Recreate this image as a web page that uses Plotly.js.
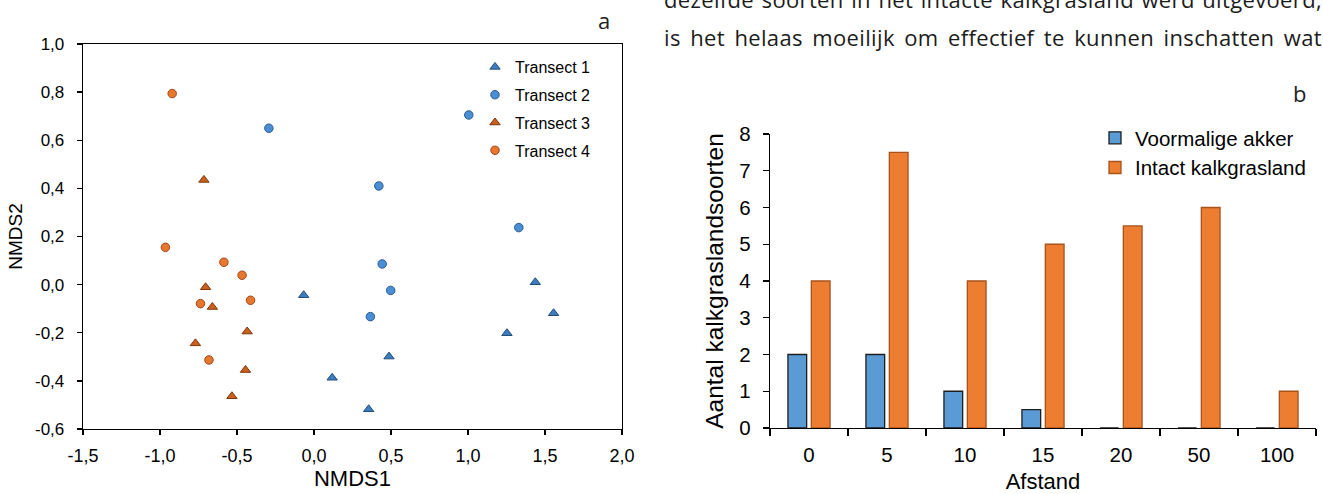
<!DOCTYPE html>
<html>
<head>
<meta charset="utf-8">
<script src="https://cdn.plot.ly/plotly-3.0.1.min.js"></script>
<style>
html,body{margin:0;padding:0;background:#fff;}
#wrap{position:relative;width:1323px;height:494px;overflow:hidden;background:#fff;}
#chart{position:absolute;left:0;top:0;width:1323px;height:494px;}
.body-line{position:absolute;left:664px;width:658px;font-family:"Open Sans",sans-serif;font-size:22px;line-height:22px;letter-spacing:0.35px;color:#1c1c1c;text-align:justify;text-align-last:justify;white-space:nowrap;}
</style>
</head>
<body>
<div id="wrap">
  <div id="chart"></div>
  <div class="body-line" style="top:-12px;">dezelfde soorten in het intacte kalkgrasland werd uitgevoerd,</div>
  <div class="body-line" style="top:26px;">is het helaas moeilijk om effectief te kunnen inschatten wat</div>
</div>
<script>
// ---- Panel a: NMDS ordination ----
const transect1X = [-0.067, 1.437, 1.556, 1.253, 0.487, 0.118, 0.355];
const transect1Y = [-0.044, 0.010, -0.119, -0.202, -0.299, -0.387, -0.518];
const transect2X = [-0.293, 1.005, 0.421, 1.330, 0.443, 0.498, 0.366];
const transect2Y = [0.650, 0.705, 0.410, 0.237, 0.086, -0.024, -0.133];
const transect3X = [-0.715, -0.704, -0.660, -0.434, -0.770, -0.445, -0.533];
const transect3Y = [0.435, -0.011, -0.093, -0.195, -0.244, -0.355, -0.464];
const transect4X = [-0.921, -0.965, -0.585, -0.467, -0.737, -0.412, -0.682];
const transect4Y = [0.794, 0.155, 0.093, 0.039, -0.079, -0.065, -0.313];
const seriesNamesA = ['Transect 1', 'Transect 2', 'Transect 3', 'Transect 4'];

const nmds1TickVals = [-1.5, -1.0, -0.5, 0.0, 0.5, 1.0, 1.5, 2.0];
const nmds1TickText = ['-1,5', '-1,0', '-0,5', '0,0', '0,5', '1,0', '1,5', '2,0'];
const nmds2TickVals = [-0.6, -0.4, -0.2, 0.0, 0.2, 0.4, 0.6, 0.8, 1.0];
const nmds2TickText = ['-0,6', '-0,4', '-0,2', '0,0', '0,2', '0,4', '0,6', '0,8', '1,0'];

// ---- Panel b: species counts ----
const distanceCategories = ['0', '5', '10', '15', '20', '50', '100'];
const voormaligeAkker = [2, 2, 1, 0.5, 0, 0, 0];
const intactKalkgrasland = [4, 7.5, 4, 5, 5.5, 6, 1];
const seriesNamesB = ['Voormalige akker', 'Intact kalkgrasland'];
const countTickVals = [0, 1, 2, 3, 4, 5, 6, 7, 8];

const FONT = 'Liberation Sans, Arial, sans-serif';
const W = 1323, H = 494;
const px = v => v / W;
const py = v => 1 - v / H;

function scat(x, y, name, symbol, fill, line, size, group) {
  return {
    type: 'scatter', mode: 'markers', x: x, y: y, name: name,
    xaxis: 'x', yaxis: 'y', legend: 'legend', legendgroup: group,
    marker: {symbol: symbol, size: size, color: fill, line: {color: line, width: 1}},
    hoverinfo: 'x+y+name'
  };
}

const data = [
  scat(transect1X, transect1Y, seriesNamesA[0], 'triangle-up', '#3E7CC0', '#1F4E79', 9, 'g1'),
  scat(transect2X, transect2Y, seriesNamesA[1], 'circle', '#4A8FD6', '#2A5A8E', 8.5, 'g2'),
  scat(transect3X, transect3Y, seriesNamesA[2], 'triangle-up', '#C9611E', '#7F360C', 9, 'g3'),
  scat(transect4X, transect4Y, seriesNamesA[3], 'circle', '#E8772E', '#A1481A', 8.5, 'g4'),
  {
    type: 'bar', x: distanceCategories, y: voormaligeAkker, name: seriesNamesB[0],
    xaxis: 'x2', yaxis: 'y2', legend: 'legend2',
    marker: {color: '#5B9BD5', line: {color: '#1E1E1E', width: 1.3}}
  },
  {
    type: 'bar', x: distanceCategories, y: intactKalkgrasland, name: seriesNamesB[1],
    xaxis: 'x2', yaxis: 'y2', legend: 'legend2',
    marker: {color: '#ED7D31', line: {color: '#A8531C', width: 1.3}}
  }
];

const axisCommon = {
  showline: true, linecolor: '#000', linewidth: 1.3, showgrid: false, zeroline: false,
  ticks: 'outside', tickcolor: '#000', tickwidth: 1.3
};

const layout = {
  width: W, height: H,
  margin: {l: 0, r: 0, t: 0, b: 0},
  paper_bgcolor: '#fff', plot_bgcolor: 'rgba(0,0,0,0)',
  font: {family: FONT, color: '#000'},
  showlegend: true,
  barmode: 'group', bargap: 0.40, bargroupgap: 0.2,
  xaxis: Object.assign({}, axisCommon, {
    domain: [px(83), px(622)], anchor: 'y', range: [-1.5, 2.0],
    tickmode: 'array', tickvals: nmds1TickVals, ticktext: nmds1TickText,
    mirror: true, ticklen: 5, ticklabelstandoff: 5,
    tickfont: {size: 18, color: '#000', family: FONT},
    title: {text: 'NMDS1', font: {size: 22, color: '#000', family: FONT}, standoff: 4}
  }),
  yaxis: Object.assign({}, axisCommon, {
    domain: [py(429), py(44)], anchor: 'x', range: [-0.6, 1.0],
    tickmode: 'array', tickvals: nmds2TickVals, ticktext: nmds2TickText,
    mirror: true, ticklen: 5, ticklabelstandoff: 9,
    tickfont: {size: 17, color: '#000', family: FONT},
    title: {text: 'NMDS2', font: {size: 19, color: '#000', family: FONT}, standoff: 7}
  }),
  xaxis2: Object.assign({}, axisCommon, {
    domain: [px(770), px(1316)], anchor: 'y2', type: 'category',
    categoryorder: 'array', categoryarray: distanceCategories, range: [-0.5, 6.5],
    tickson: 'boundaries', ticklen: 7, ticklabelstandoff: 8,
    tickfont: {size: 20.5, color: '#000', family: FONT},
    title: {text: 'Afstand', font: {size: 22, color: '#000', family: FONT}, standoff: 8}
  }),
  yaxis2: Object.assign({}, axisCommon, {
    domain: [py(428), py(134)], anchor: 'x2', range: [0, 8],
    tickmode: 'array', tickvals: countTickVals,
    ticklen: 6, ticklabelstandoff: 8,
    tickfont: {size: 20.5, color: '#000', family: FONT},
    title: {text: 'Aantal kalkgraslandsoorten', font: {size: 24.5, color: '#000', family: FONT}, standoff: 8}
  }),
  legend: {
    x: px(475), y: py(50), xanchor: 'left', yanchor: 'top',
    bgcolor: 'rgba(0,0,0,0)', borderwidth: 0, tracegroupgap: 4,
    font: {size: 16, color: '#000', family: FONT}
  },
  legend2: {
    x: px(1095), y: py(118), xanchor: 'left', yanchor: 'top',
    bgcolor: 'rgba(0,0,0,0)', borderwidth: 0,
    font: {size: 20.5, color: '#000', family: FONT}
  },
  annotations: [
    {text: 'a', xref: 'paper', yref: 'paper', x: px(604), y: py(20), xanchor: 'center', yanchor: 'middle',
     showarrow: false, font: {family: 'Open Sans, sans-serif', size: 22, color: '#222'}},
    {text: 'b', xref: 'paper', yref: 'paper', x: px(1299), y: py(93), xanchor: 'center', yanchor: 'middle',
     showarrow: false, font: {family: 'Open Sans, sans-serif', size: 22, color: '#222'}}
  ]
};

Plotly.newPlot('chart', data, layout, {displayModeBar: false, staticPlot: true});
</script>
</body>
</html>
